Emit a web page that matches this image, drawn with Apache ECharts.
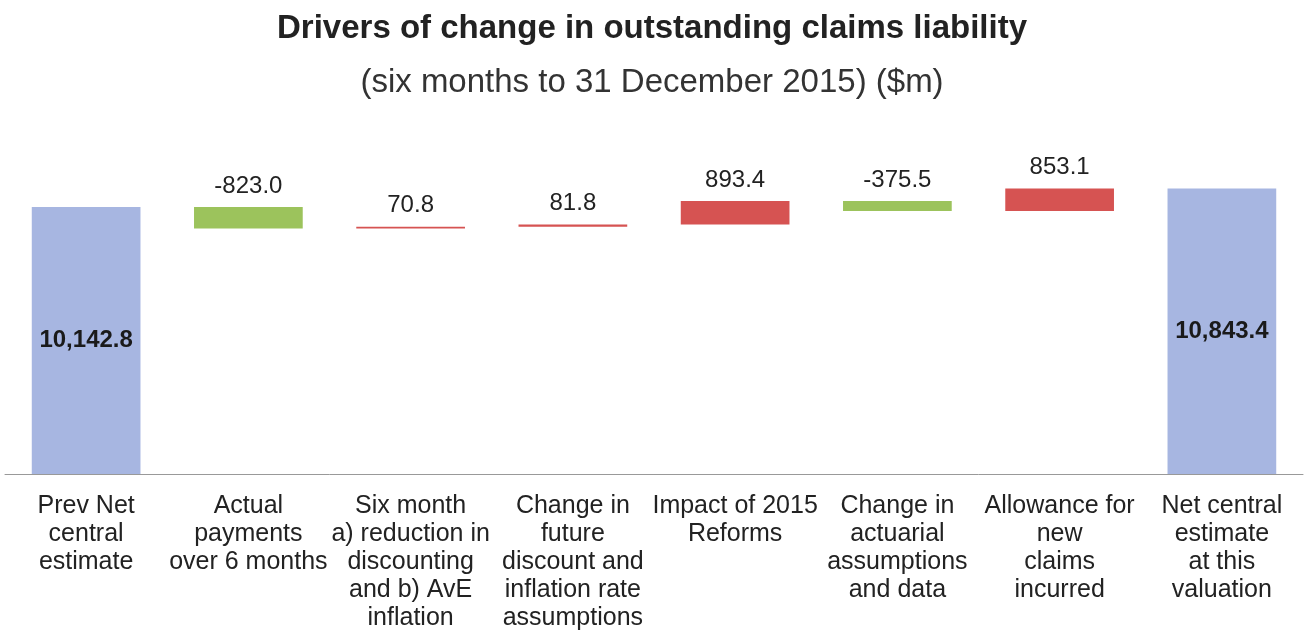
<!DOCTYPE html>
<html>
<head>
<meta charset="utf-8">
<script src="https://cdn.jsdelivr.net/npm/echarts@6/dist/echarts.min.js"></script>
<style>
    html, body { margin: 0; padding: 0; background: #fff; }
    #chart { width: 1304px; height: 632px; }
</style>
</head>
<body>
<div id="chart"></div>
<script>
// chart data
const categories = [
    'Prev Net\ncentral\nestimate',
    'Actual\npayments\nover 6 months',
    'Six month\na) reduction in\ndiscounting\nand b) AvE\ninflation',
    'Change in\nfuture\ndiscount and\ninflation rate\nassumptions',
    'Impact of 2015\nReforms',
    'Change in\nactuarial\nassumptions\nand data',
    'Allowance for\nnew\nclaims\nincurred',
    'Net central\nestimate\nat this\nvaluation'
];
const startValue = 10142.8;
const changes = [-823.0, 70.8, 81.8, 893.4, -375.5, 853.1];
const endValue = 10843.4;

const BLUE = '#a7b6e1', GREEN = '#9cc35c', RED = '#d65352';
const FONT = "'Liberation Sans', Arial, sans-serif";

// build waterfall: invisible base + visible part
let base = [0], visible = [], colors = [BLUE], labels = [];
visible.push(startValue);
labels.push(startValue);
let running = startValue;
changes.forEach(c => {
    const next = running + c;
    base.push(Math.min(running, next));
    visible.push(Math.abs(c));
    colors.push(c < 0 ? GREEN : RED);
    labels.push(c);
    running = next;
});
base.push(0);
visible.push(endValue);
colors.push(BLUE);
labels.push(endValue);

const fmtTotal = v => v.toLocaleString('en-US', {minimumFractionDigits: 1, maximumFractionDigits: 1});

const chart = echarts.init(document.getElementById('chart'));
chart.setOption({
    animation: false,
    textStyle: {fontFamily: FONT},
    title: [
        {
            text: 'Drivers of change in outstanding claims liability',
            left: 'center', top: 7,
            textStyle: {fontSize: 33, fontWeight: 'bold', color: '#222', fontFamily: FONT}
        },
        {
            text: '(six months to 31 December 2015) ($m)',
            left: 'center', top: 61,
            textStyle: {fontSize: 33, fontWeight: 'normal', color: '#333', fontFamily: FONT}
        }
    ],
    grid: {left: 5, right: 1, top: 158, bottom: 152, containLabel: false},
    xAxis: {
        type: 'category',
        data: categories,
        axisLine: {lineStyle: {color: '#999', width: 1}},
        axisTick: {show: false},
        axisLabel: {
            interval: 0, margin: 18, fontSize: 25, lineHeight: 28, color: '#222',
            fontFamily: FONT
        }
    },
    yAxis: {
        type: 'value', min: 0, max: 12000,
        show: false, splitLine: {show: false}
    },
    series: [
        {
            type: 'bar', stack: 'w', data: base,
            itemStyle: {color: 'transparent'},
            barWidth: '67%', silent: true
        },
        {
            type: 'bar', stack: 'w',
            data: visible.map((v, i) => ({
                value: v,
                itemStyle: {color: colors[i]},
                label: (i === 0 || i === visible.length - 1) ? {
                    show: true, position: 'inside', fontWeight: 'bold', fontSize: 24, color: '#1a1a1a',
                    fontFamily: FONT,
                    formatter: () => fmtTotal(labels[i])
                } : {
                    show: true, position: 'top', distance: 9, fontSize: 24, color: '#222',
                    fontFamily: FONT,
                    formatter: () => labels[i].toFixed(1)
                }
            })),
            barWidth: '67%'
        }
    ]
});
</script>
</body>
</html>
